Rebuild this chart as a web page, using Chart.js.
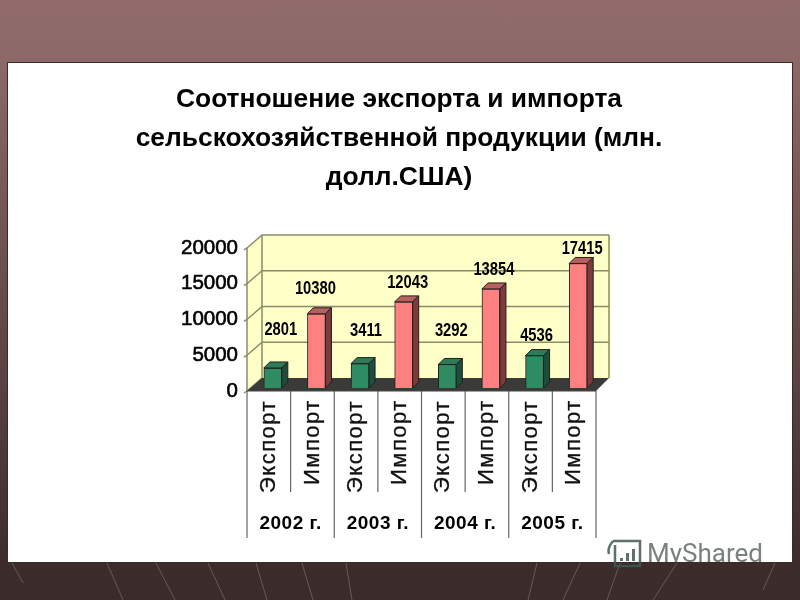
<!DOCTYPE html>
<html>
<head>
<meta charset="utf-8">
<script src="https://cdn.jsdelivr.net/npm/chart.js@4"></script>
<style>
html,body{margin:0;padding:0;width:800px;height:600px;overflow:hidden;
background:linear-gradient(to bottom,#926c6c 0,#8d6868 10%,#3c2d2b 93%,#3a2c2a 100%);}
#slide{position:absolute;left:8px;top:63px;width:784px;height:499px;background:#fff;box-shadow:0 0 0 1px #3a2a2a;}
canvas{position:absolute;left:0;top:0;}
svg{position:absolute;left:0;top:0;}
</style>
</head>
<body>
<svg width="800" height="600" stroke="#685a58" stroke-width="1">
<path d="M12 563L23 583M107 563L123 600M156 563L175 600M208 563L225 600M256 563L267 600M302 563L313 600M346 563L352 600M537 563L528 600M580 563L563 600M620 563L607 600M677 563L653 600M775 563L763 590" fill="none"/>
</svg>
<div id="slide"></div>
<canvas id="c" width="800" height="600"></canvas>
<svg width="800" height="600">
<defs><clipPath id="wm"><rect x="600" y="530" width="180" height="32"/></clipPath></defs>
<g fill="none" stroke="#3f5a50" stroke-width="2.5" opacity="0.85">
<path d="M613 541H640V566H615V545"/>
<path d="M613 541Q607 548 609 554"/>
</g>
<g fill="#3f5a50" opacity="0.85"><rect x="620" y="558" width="3" height="3"/><rect x="626" y="553" width="3" height="8"/><rect x="632" y="549" width="3" height="12"/></g>
<text x="647" y="562" font-family="Roboto" font-size="26" fill="#7a827f" clip-path="url(#wm)">MyShared</text>
</svg>
<script>
const groupLabels = ['Экспорт','Импорт','Экспорт','Импорт','Экспорт','Импорт','Экспорт','Импорт'];
const years = ['2002 г.','2003 г.','2004 г.','2005 г.'];
const values = [2801,10380,3411,12043,3292,13854,4536,17415];
const yTicks = [0,5000,10000,15000,20000];
const titleLines = ['Соотношение экспорта и импорта','сельскохозяйственной продукции (млн.','долл.США)'];
const labelDx = [8,-1,6,4,4,3,2,4];
const labelDy = [-38,-25,-33,-19,-33,-19,-20,-14];

const exportFill='#2e8b62', importFill='#ff8080', exportDark='#1c4f3a', importDark='#7f3a3a', exportTop='#2e7b5a', importTop='#b85f5f';
const SHIFT_X=4, SHIFT_Y=-3, D=6, WX=15, WY=-13;

const deco={
 id:'deco',
 afterLayout(chart){
  const t=chart.titleBlock; t.left=0;t.right=798;t.width=798;
 },
 beforeDatasetsDraw(chart){
  const {ctx,chartArea:a,scales:{y}}=chart;
  const L=a.left,R=a.right,T=a.top,B=a.bottom;
  ctx.save();
  ctx.fillStyle='#ffffc8';ctx.strokeStyle='#8c8c6c';ctx.lineWidth=1.5;
  ctx.beginPath();ctx.moveTo(L,T);ctx.lineTo(L+WX,T+WY);ctx.lineTo(L+WX,B+WY);ctx.lineTo(L,B);ctx.closePath();ctx.fill();
  ctx.fillRect(L+WX,T+WY,R-L,B-T);
  yTicks.forEach(v=>{
    const p=y.getPixelForValue(v);
    ctx.beginPath();ctx.moveTo(L-3,p+2);ctx.lineTo(L,p);ctx.lineTo(L+WX,p+WY);
    if(v>0)ctx.lineTo(R+WX-2,p+WY);
    ctx.stroke();
  });
  ctx.beginPath();ctx.moveTo(L,T);ctx.lineTo(L,B);ctx.moveTo(L+WX,T+WY);ctx.lineTo(L+WX,B+WY);
  ctx.moveTo(R+WX-2,T+WY);ctx.lineTo(R+WX-2,B+WY);ctx.stroke();
  ctx.fillStyle='#3a3a38';
  ctx.beginPath();ctx.moveTo(L,B);ctx.lineTo(L+WX,B+WY);ctx.lineTo(R+WX-2,B+WY);ctx.lineTo(R,B);ctx.closePath();ctx.fill();
  ctx.restore();
  ctx.save();ctx.translate(SHIFT_X,SHIFT_Y);
 },
 afterDatasetsDraw(chart){
  const {ctx,chartArea:a,scales:{x,y}}=chart;
  const meta=chart.getDatasetMeta(0);
  meta.data.forEach((b,i)=>{
    const l=b.x-b.width/2,r=b.x+b.width/2,t=b.y,bs=b.base;
    const exp=i%2===0;
    ctx.strokeStyle='#202020';ctx.lineWidth=1;
    ctx.fillStyle=exp?exportTop:importTop;
    ctx.beginPath();ctx.moveTo(l,t);ctx.lineTo(l+D,t-D);ctx.lineTo(r+D,t-D);ctx.lineTo(r,t);ctx.closePath();ctx.fill();ctx.stroke();
    ctx.fillStyle=exp?exportDark:importDark;
    ctx.beginPath();ctx.moveTo(r,t);ctx.lineTo(r+D,t-D);ctx.lineTo(r+D,bs-D);ctx.lineTo(r,bs);ctx.closePath();ctx.fill();ctx.stroke();
  });
  ctx.restore();
  // value labels
  ctx.save();ctx.fillStyle='#000';ctx.textAlign='center';ctx.textBaseline='middle';
  meta.data.forEach((b,i)=>{
    const top=y.getPixelForValue(values[i])+SHIFT_Y;
    ctx.save();ctx.translate(b.x+SHIFT_X+labelDx[i],top+labelDy[i]);ctx.scale(0.82,1);
    ctx.font='bold 18px "Liberation Sans"';ctx.fillText(String(values[i]),0,0);ctx.restore();
  });
  ctx.restore();
  // category axis
  ctx.save();
  ctx.strokeStyle='#666';ctx.lineWidth=1.2;
  const w=(a.right-a.left)/values.length;
  for(let i=0;i<=values.length;i++){
    const px=a.left+i*w;
    ctx.beginPath();ctx.moveTo(px,a.bottom);ctx.lineTo(px,i%2===0?538:492);ctx.stroke();
  }
  ctx.beginPath();ctx.moveTo(a.left,a.bottom);ctx.lineTo(a.right,a.bottom);ctx.strokeStyle='#444';ctx.stroke();
  ctx.fillStyle='#111';ctx.strokeStyle='#111';ctx.lineWidth=0.3;
  ctx.font='22px "Liberation Sans"';ctx.letterSpacing='1.5px';ctx.textAlign='left';ctx.textBaseline='middle';
  groupLabels.forEach((s,i)=>{
    ctx.save();ctx.translate(x.getPixelForTick(i),i%2===0?493:485);ctx.rotate(-Math.PI/2);ctx.fillText(s,0,0);ctx.strokeText(s,0,0);ctx.restore();
  });
  ctx.font='bold 19px "Liberation Sans"';ctx.letterSpacing='0.5px';ctx.textAlign='center';ctx.fillStyle='#000';
  years.forEach((s,i)=>{ctx.fillText(s,a.left+(2*i+1)*w,524);});
  ctx.letterSpacing='0px';
  ctx.restore();
 }
};

new Chart(document.getElementById('c'),{
 type:'bar',
 data:{labels:groupLabels,datasets:[{data:values,
   backgroundColor:values.map((_,i)=>i%2===0?exportFill:importFill),
   borderColor:'#202020',borderWidth:1,barThickness:18}]},
 plugins:[deco],
 options:{
  responsive:false,animation:false,devicePixelRatio:1,
  layout:{padding:{top:80,right:204,left:0,bottom:0}},
  plugins:{
   legend:{display:false},tooltip:{enabled:false},
   title:{display:true,text:titleLines,color:'#000',
     font:{family:'"Liberation Sans"',weight:'bold',size:26.4,lineHeight:1.477},
     padding:{top:0,bottom:51}}
  },
  scales:{
   x:{grid:{display:false},border:{display:false},ticks:{display:false},
      afterFit(s){s.height=209;}},
   y:{min:0,max:20000,afterBuildTicks(s){s.ticks=yTicks.map(v=>({value:v}));},
      grid:{display:false,drawTicks:false},border:{display:false},
      ticks:{color:'#000',padding:9,textStrokeColor:'#000',textStrokeWidth:0.6,font:{family:'"Liberation Sans"',size:20.5},callback:v=>String(v)},
      afterFit(s){s.width=247;}}
  }
 }
});
</script>
</body>
</html>
